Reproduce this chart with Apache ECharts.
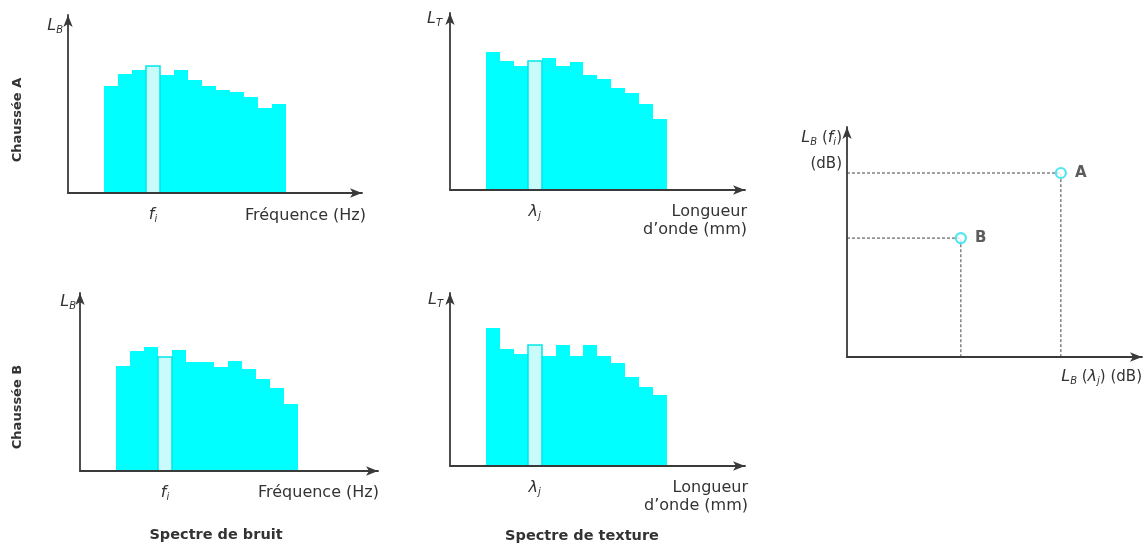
<!DOCTYPE html>
<html><head><meta charset="utf-8">
<script src="https://cdn.jsdelivr.net/npm/echarts@6/dist/echarts.min.js"></script>
<style>html,body{margin:0;padding:0;background:#fff}#c{width:1148px;height:546px}</style>
</head><body><div id="c"></div>
<script>
// ---------- data ----------
const binIndex = [0,1,2,3,4,5,6,7,8,9,10,11,12];
const noiseLevelA   = [107,119,123,127,118,123,113,107,103,101,96,85,89];
const textureLevelA = [138,129,124,129,132,124,128,115,111,102,97,86,71];
const noiseLevelB   = [105,120,124,114,121,109,109,104,110,102,92,83,67];
const textureLevelB = [138,117,112,121,110,121,110,121,110,103,89,79,71];
const selectedBin = 3;
const roadNames = ['Chaussée A', 'Chaussée B'];
const spectrumTitles = ['Spectre de bruit', 'Spectre de texture'];
const noiseTickLabel = '{m|f}{s|i}';
const textureTickLabel = '{m|λ}{s|j}';
const noiseAxisName = 'Fréquence (Hz)';
const textureAxisName = 'Longueur\nd\u2019onde (mm)';
const pointNames = ['A', 'B'];
const pointTextureLevel = [72.5, 38.6];
const pointNoiseLevel = [80.0, 51.7];

// ---------- layout ----------
const FONT = "'DejaVu Sans', sans-serif";
const TXT = '#333';
const CYAN = '#00ffff';
const panels = [
  {values: noiseLevelA,   tick: noiseTickLabel,   yName: '{m|L}{s|B}', left: 68,  top: 15,  right: 362, bottom: 193, barStart: 104, barEnd: 286},
  {values: textureLevelA, tick: textureTickLabel, yName: '{m|L}{s|T}', left: 450, top: 13,  right: 745, bottom: 190, barStart: 486, barEnd: 667},
  {values: noiseLevelB,   tick: noiseTickLabel,   yName: '{m|L}{s|B}', left: 80,  top: 293, right: 378, bottom: 471, barStart: 116, barEnd: 298},
  {values: textureLevelB, tick: textureTickLabel, yName: '{m|L}{s|T}', left: 450, top: 293, right: 745, bottom: 466, barStart: 486, barEnd: 667}
];
const scatterBox = {left: 847, top: 127, right: 1142, bottom: 357};

const mathRich = {
  m: {fontFamily: FONT, fontStyle: 'italic', fontSize: 16, color: TXT, lineHeight: 18},
  s: {fontFamily: FONT, fontStyle: 'italic', fontSize: 10, color: TXT, lineHeight: 8, verticalAlign: 'bottom'},
  n: {fontFamily: FONT, fontSize: 15, color: TXT, lineHeight: 18}
};
const axisLineStyle = {color: '#3a3a3a', width: 1.8};
const arrow = {show: true, symbol: ['none', 'arrow'], symbolSize: [7, 12], lineStyle: axisLineStyle};

const grid = [], xAxis = [], yAxis = [], series = [];
panels.forEach((p, k) => {
  const binPx = (p.barEnd - p.barStart) / binIndex.length;
  grid.push({left: p.left, top: p.top, width: p.right - p.left, height: p.bottom - p.top, containLabel: false});
  xAxis.push({
    type: 'value', gridIndex: k,
    min: -(p.barStart - p.left) / binPx, max: (p.right - p.barStart) / binPx,
    axisLine: Object.assign({onZero: false}, arrow), axisTick: {show: false}, splitLine: {show: false},
    axisLabel: {customValues: [selectedBin + 0.5], margin: 13, formatter: () => p.tick, rich: mathRich},
    z: 5
  });
  yAxis.push({
    type: 'value', gridIndex: k, min: 0, max: p.bottom - p.top,
    axisLine: Object.assign({onZero: false}, arrow), axisTick: {show: false}, splitLine: {show: false},
    axisLabel: {show: false}, z: 5
  });
  series.push({
    type: 'custom', xAxisIndex: k, yAxisIndex: k,
    data: binIndex.map((b, i) => [b, p.values[i]]),
    encode: {x: 0, y: 1},
    renderItem: (params, api) => {
      const b = api.value(0), v = api.value(1);
      const p0 = api.coord([b, v]), p1 = api.coord([b + 1, 0]);
      const x0 = Math.round(p0[0]), x1 = Math.round(p1[0]);
      const y0 = Math.round(p0[1]), y1 = Math.round(p1[1]);
      const hl = b === selectedBin;
      return {
        type: 'rect', z2: hl ? 10 : 1,
        shape: {x: x0, y: y0, width: x1 - x0, height: y1 - y0},
        style: hl ? {fill: '#c9fbfb', stroke: '#00e6e6', lineWidth: 1.5} : {fill: CYAN}
      };
    }
  });
});

// scatter panel
const sk = panels.length;
grid.push({left: scatterBox.left, top: scatterBox.top, width: scatterBox.right - scatterBox.left, height: scatterBox.bottom - scatterBox.top});
xAxis.push({type: 'value', gridIndex: sk, min: 0, max: 100, axisLine: Object.assign({onZero: false}, arrow),
  axisTick: {show: false}, splitLine: {show: false}, axisLabel: {show: false}, z: 5});
yAxis.push({type: 'value', gridIndex: sk, min: 0, max: 100, axisLine: Object.assign({onZero: false}, arrow),
  axisTick: {show: false}, splitLine: {show: false}, axisLabel: {show: false}, z: 5});
pointNames.forEach((n, i) => {
  series.push({
    type: 'line', xAxisIndex: sk, yAxisIndex: sk, symbol: 'none', silent: true,
    lineStyle: {color: '#444', width: 1, type: [3, 2]},
    data: [[0, pointNoiseLevel[i]], [pointTextureLevel[i], pointNoiseLevel[i]], [pointTextureLevel[i], 0]]
  });
});
series.push({
  type: 'scatter', xAxisIndex: sk, yAxisIndex: sk, symbol: 'circle', symbolSize: 10, z: 10,
  itemStyle: {color: '#fff', borderColor: '#22e0f0', borderWidth: 2.2},
  label: {show: true, position: 'right', distance: 8, formatter: p => p.name,
    fontFamily: FONT, fontWeight: 'bold', fontSize: 15, color: TXT},
  data: pointNames.map((n, i) => ({name: n, value: [pointTextureLevel[i], pointNoiseLevel[i]]}))
});

// texts
const graphic = [];
const txt = (x, y, text, extra) => graphic.push({type: 'text', x, y, silent: true,
  style: Object.assign({text, fill: TXT, font: '16px ' + FONT, align: 'right', verticalAlign: 'middle'}, extra)});
txt(17.5, 120, roadNames[0], {font: 'bold 13px ' + FONT, align: 'center'});
graphic[graphic.length - 1].rotation = Math.PI / 2;
txt(17.5, 407, roadNames[1], {font: 'bold 13px ' + FONT, align: 'center'});
graphic[graphic.length - 1].rotation = Math.PI / 2;
txt(216, 535, spectrumTitles[0], {font: 'bold 14.5px ' + FONT, align: 'center'});
txt(582, 536, spectrumTitles[1], {font: 'bold 14.5px ' + FONT, align: 'center'});
// y axis names
[[63, 26], [442, 19], [76, 302], [443, 300]].forEach((pos, k) =>
  txt(pos[0], pos[1], panels[k].yName, {rich: mathRich}));
// x axis names
txt(366, 216, noiseAxisName);
txt(379, 493, noiseAxisName);
txt(747, 221, textureAxisName, {lineHeight: 18});
txt(748, 497, textureAxisName, {lineHeight: 18});
// scatter axis names
txt(842, 138, '{m|L}{s|B}{n| (}{m|f}{s|i}{n|)}', {rich: mathRich});
txt(842, 164, '(dB)', {font: '15px ' + FONT});
txt(1142, 377, '{m|L}{s|B}{n| (}{m|λ}{s|j}{n|) (dB)}', {rich: mathRich});

const chart = echarts.init(document.getElementById('c'), null, {renderer: 'canvas'});
chart.setOption({animation: false, backgroundColor: '#fff', grid, xAxis, yAxis, series, graphic});
</script></body></html>
